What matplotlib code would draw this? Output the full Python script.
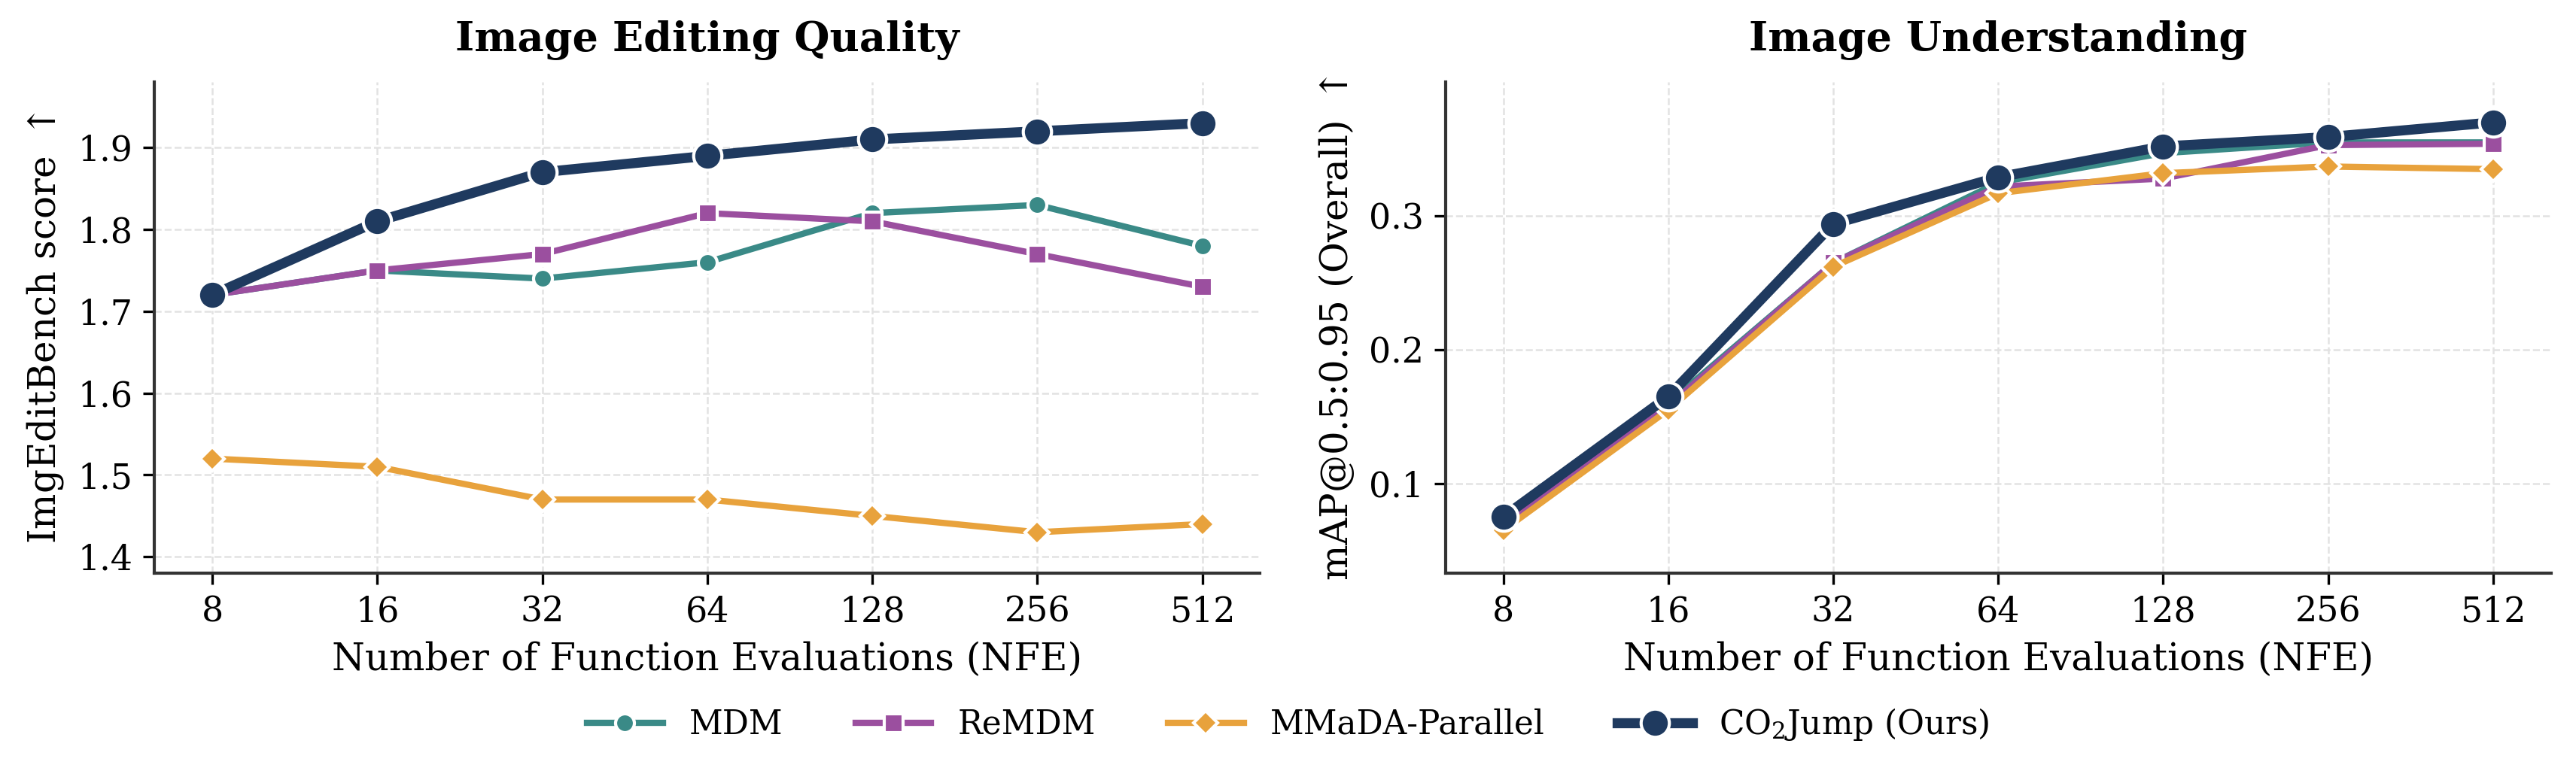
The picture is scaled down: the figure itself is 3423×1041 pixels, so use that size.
import matplotlib
matplotlib.use('Agg')
import matplotlib.pyplot as plt

plt.rcParams['font.family'] = ['DejaVu Serif']
plt.rcParams['mathtext.fontset'] = 'dejavuserif'

nfe = ['8', '16', '32', '64', '128', '256', '512']
methods = ['MDM', 'ReMDM', 'MMaDA-Parallel', r'CO$_2$Jump (Ours)']

edit_mdm = [1.72, 1.75, 1.74, 1.76, 1.82, 1.83, 1.78]
edit_remdm = [1.72, 1.75, 1.77, 1.82, 1.81, 1.77, 1.73]
edit_mmada = [1.52, 1.51, 1.47, 1.47, 1.45, 1.43, 1.44]
edit_ours = [1.72, 1.81, 1.87, 1.89, 1.91, 1.92, 1.93]

und_mdm = [0.072, 0.160, 0.265, 0.325, 0.347, 0.355, 0.355]
und_remdm = [0.070, 0.158, 0.265, 0.322, 0.328, 0.353, 0.354]
und_mmada = [0.065, 0.155, 0.262, 0.317, 0.332, 0.337, 0.335]
und_ours = [0.075, 0.165, 0.294, 0.329, 0.352, 0.359, 0.370]

colors = ['#3a8a87', '#9b4f9f', '#e8a23c', '#1f3a5f']
markers = ['o', 's', 'D', 'o']
msizes = [6, 6, 5.5, 9]
lwidths = [2, 2, 2, 3.2]

fig = plt.figure(figsize=(11.413, 3.47), dpi=300)
ax1 = fig.add_axes([0.060, 0.268, 0.429, 0.627])
ax2 = fig.add_axes([0.561, 0.268, 0.429, 0.627])

x = list(range(len(nfe)))

def draw(ax, series, title, ylabel, ylim, yticks):
    handles = []
    for i, ys in enumerate(series):
        h, = ax.plot(x, ys, color=colors[i], marker=markers[i], markersize=msizes[i],
                     linewidth=lwidths[i], markeredgecolor='white', markeredgewidth=1.0,
                     label=methods[i], zorder=3 + i)
        handles.append(h)
    ax.set_xticks(x)
    ax.set_xticklabels(nfe, fontsize=11)
    ax.set_yticks(yticks)
    ax.tick_params(axis='y', labelsize=11)
    ax.set_ylim(*ylim)
    ax.set_xlim(-0.35, 6.35)
    ax.set_title(title, fontsize=13, fontweight='bold', pad=10)
    ax.set_xlabel('Number of Function Evaluations (NFE)', fontsize=12)
    ax.set_ylabel(ylabel, fontsize=12)
    ax.grid(True, linestyle='--', color='#e2e2e2', linewidth=0.6)
    ax.set_axisbelow(True)
    ax.spines['top'].set_visible(False)
    ax.spines['right'].set_visible(False)
    for s in ['left', 'bottom']:
        ax.spines[s].set_color('#333333')
        ax.spines[s].set_linewidth(1.0)
    return handles

handles = draw(ax1, [edit_mdm, edit_remdm, edit_mmada, edit_ours], 'Image Editing Quality',
               'ImgEditBench score $\\uparrow$', (1.38, 1.98), [1.4, 1.5, 1.6, 1.7, 1.8, 1.9])
draw(ax2, [und_mdm, und_remdm, und_mmada, und_ours], 'Image Understanding',
     'mAP@0.5:0.95 (Overall) $\\uparrow$', (0.033, 0.40), [0.1, 0.2, 0.3])

fig.legend(handles=handles, labels=methods, loc='center', bbox_to_anchor=(0.5, 0.075),
           ncol=4, frameon=False, fontsize=10.5, columnspacing=2.2, handlelength=2.3)

fig.savefig('out.png', dpi=300)
